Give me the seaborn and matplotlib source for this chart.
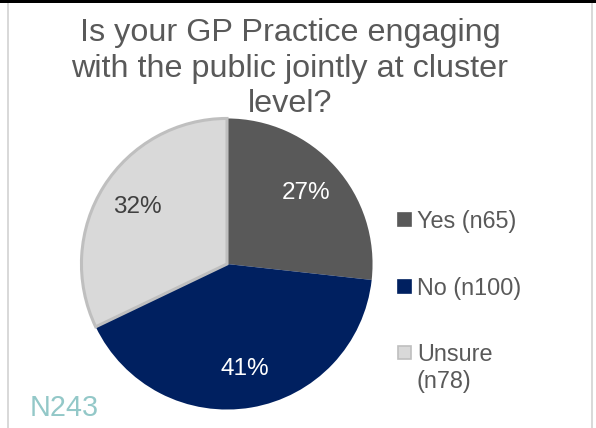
import matplotlib
matplotlib.use("Agg")
import matplotlib.pyplot as plt
from matplotlib.patches import Rectangle
import seaborn as sns

categories = ["Yes", "No", "Unsure"]
counts = [65, 100, 78]
legend_labels = ["Yes (n65)", "No (n100)", "Unsure\n(n78)"]
colors = ["#595959", "#002060", "#D9D9D9"]
pct_colors = ["white", "white", "#404040"]
title = "Is your GP Practice engaging\nwith the public jointly at cluster\nlevel?"
note = "N243"

sns.set_theme(style="white")
plt.rcParams["font.family"] = ["Liberation Sans", "DejaVu Sans"]

W, H = 596, 428
fig = plt.figure(figsize=(W / 100, H / 100), dpi=100)
fig.patch.set_facecolor("white")

def fx(px):
    return px / W

def fy(py):
    return 1 - py / H

# frame
fig.add_artist(Rectangle((0, fy(3)), 1, 3 / H, transform=fig.transFigure,
                         color="black", lw=0))
fig.add_artist(Rectangle((fx(7), 0), 2 / W, fy(3), transform=fig.transFigure,
                         color="#D9D9D9", lw=0))
fig.add_artist(Rectangle((fx(591), 0), 2 / W, fy(3), transform=fig.transFigure,
                         color="#D9D9D9", lw=0))

# pie
cx, cy, r = 227, 264, 147
ax = fig.add_axes([fx(cx - r), fy(cy + r), 2 * r / W, 2 * r / H])
wedges, texts, autotexts = ax.pie(
    counts, colors=colors, startangle=90, counterclock=False,
    autopct="%1.0f%%", pctdistance=0.73, radius=1,
    wedgeprops=dict(linewidth=0),
    textprops=dict(fontsize=17.5))
for t, c in zip(autotexts, pct_colors):
    t.set_color(c)
wedges[2].set_edgecolor("#BFBFBF")
wedges[2].set_linewidth(2.2)
wedges[2].set_zorder(3)
ax.set_xlim(-1.01, 1.01)
ax.set_ylim(-1.01, 1.01)
ax.axis("off")

# title
fig.text(fx(290), fy(18), title, ha="center", va="top", fontsize=23.3,
         color="#595959", linespacing=1.25)

# legend
leg_y = [219, 286, 352]
for lab, col, y in zip(legend_labels, colors, leg_y):
    ec = "#BFBFBF" if col == "#D9D9D9" else col
    fig.add_artist(Rectangle((fx(397.5), fy(y + 6.5)), 13 / W, 13 / H,
                             transform=fig.transFigure, facecolor=col,
                             edgecolor=ec, lw=1.2))
    fig.text(fx(417), fy(y - 9), lab, ha="left", va="top", fontsize=16.8,
             color="#595959", linespacing=1.22)

fig.text(fx(30), fy(408), note, ha="left", va="center", fontsize=20.7,
         color="#93C8C8")

fig.savefig("out.png", dpi=100, facecolor="white")
